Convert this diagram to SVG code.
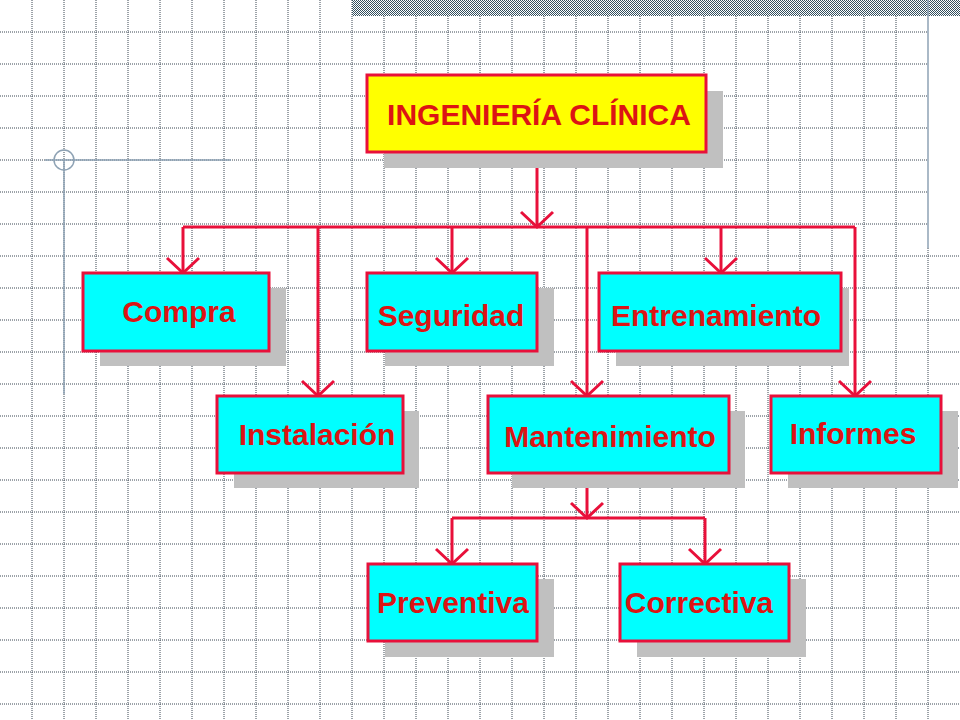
<svg xmlns="http://www.w3.org/2000/svg" width="960" height="720" viewBox="0 0 960 720">
<defs>
<pattern id="chk" width="2" height="2" patternUnits="userSpaceOnUse">
<rect width="2" height="2" fill="#ffffff"/>
<rect width="1" height="1" fill="#34505f"/>
<rect x="1" y="1" width="1" height="1" fill="#34505f"/>
</pattern>
<marker id="arr" markerUnits="userSpaceOnUse" markerWidth="40" markerHeight="40" viewBox="-20 -20 40 40" refX="0" refY="0" orient="auto">
<path d="M-15,-16 L0,0 L-15,16" fill="none" stroke="#e8103a" stroke-width="3"/>
</marker>
</defs>
<style>
.grid line{stroke:#3a4652;stroke-width:1;stroke-dasharray:1 1}
.deco{stroke:#8ea2b4;stroke-width:1.5;fill:none}
.shadow{fill:#c0c0c0}
.box{stroke:#e8103a;stroke-width:3}
.cy{fill:#00ffff}
.ye{fill:#ffff00}
.lbl{font-family:"Liberation Sans",Arial,sans-serif;font-weight:bold;font-size:30px;fill:#dc1414;text-anchor:middle}
.conn{stroke:#e8103a;stroke-width:3;fill:none}
</style>
<rect width="960" height="720" fill="#ffffff"/>
<g class="grid">
<line x1="32" y1="0" x2="32" y2="720"/><line x1="64" y1="0" x2="64" y2="720"/><line x1="96" y1="0" x2="96" y2="720"/><line x1="128" y1="0" x2="128" y2="720"/><line x1="160" y1="0" x2="160" y2="720"/><line x1="192" y1="0" x2="192" y2="720"/><line x1="224" y1="0" x2="224" y2="720"/><line x1="256" y1="0" x2="256" y2="720"/><line x1="288" y1="0" x2="288" y2="720"/><line x1="320" y1="0" x2="320" y2="720"/>
<line x1="352" y1="0" x2="352" y2="720"/><line x1="384" y1="16" x2="384" y2="720"/><line x1="416" y1="16" x2="416" y2="720"/><line x1="448" y1="16" x2="448" y2="720"/><line x1="480" y1="16" x2="480" y2="720"/><line x1="512" y1="16" x2="512" y2="720"/><line x1="544" y1="16" x2="544" y2="720"/><line x1="576" y1="16" x2="576" y2="720"/><line x1="608" y1="16" x2="608" y2="720"/><line x1="640" y1="16" x2="640" y2="720"/>
<line x1="672" y1="16" x2="672" y2="720"/><line x1="704" y1="16" x2="704" y2="720"/><line x1="736" y1="16" x2="736" y2="720"/><line x1="768" y1="16" x2="768" y2="720"/><line x1="800" y1="16" x2="800" y2="720"/><line x1="832" y1="16" x2="832" y2="720"/><line x1="864" y1="16" x2="864" y2="720"/><line x1="896" y1="16" x2="896" y2="720"/><line x1="928" y1="248" x2="928" y2="720"/>
<line x1="0" y1="32" x2="928" y2="32"/><line x1="0" y1="64" x2="928" y2="64"/><line x1="0" y1="96" x2="928" y2="96"/><line x1="0" y1="128" x2="928" y2="128"/><line x1="0" y1="160" x2="928" y2="160"/><line x1="0" y1="192" x2="928" y2="192"/><line x1="0" y1="224" x2="928" y2="224"/>
<line x1="0" y1="256" x2="960" y2="256"/><line x1="0" y1="288" x2="960" y2="288"/><line x1="0" y1="320" x2="960" y2="320"/><line x1="0" y1="352" x2="960" y2="352"/><line x1="0" y1="384" x2="960" y2="384"/><line x1="0" y1="416" x2="960" y2="416"/><line x1="0" y1="448" x2="960" y2="448"/><line x1="0" y1="480" x2="960" y2="480"/><line x1="0" y1="512" x2="960" y2="512"/><line x1="0" y1="544" x2="960" y2="544"/><line x1="0" y1="576" x2="960" y2="576"/><line x1="0" y1="608" x2="960" y2="608"/><line x1="0" y1="640" x2="960" y2="640"/><line x1="0" y1="672" x2="960" y2="672"/><line x1="0" y1="704" x2="960" y2="704"/>
</g>
<rect x="352" y="0" width="608" height="16" fill="url(#chk)"/>
<g class="deco">
<line x1="928" y1="0" x2="928" y2="248"/>
<line x1="45" y1="160" x2="231" y2="160"/>
<line x1="64" y1="160" x2="64" y2="394"/>
<circle cx="64" cy="160" r="10"/>
</g>
<g id="connectors">
<line class="conn" x1="537" y1="152" x2="537" y2="227" marker-end="url(#arr)"/>
<line class="conn" x1="183" y1="227" x2="855" y2="227"/>
<line class="conn" x1="183" y1="227" x2="183" y2="273" marker-end="url(#arr)"/>
<line class="conn" x1="318" y1="227" x2="318" y2="396" marker-end="url(#arr)"/>
<line class="conn" x1="452" y1="227" x2="452" y2="273" marker-end="url(#arr)"/>
<line class="conn" x1="587" y1="227" x2="587" y2="396" marker-end="url(#arr)"/>
<line class="conn" x1="721" y1="227" x2="721" y2="273" marker-end="url(#arr)"/>
<line class="conn" x1="855" y1="227" x2="855" y2="396" marker-end="url(#arr)"/>
<line class="conn" x1="587" y1="473" x2="587" y2="518" marker-end="url(#arr)"/>
<line class="conn" x1="452" y1="518" x2="705" y2="518"/>
<line class="conn" x1="452" y1="518" x2="452" y2="564" marker-end="url(#arr)"/>
<line class="conn" x1="705" y1="518" x2="705" y2="564" marker-end="url(#arr)"/>
</g>
<g id="ingenieria">
<rect class="shadow" x="384" y="91" width="339" height="77"/>
<rect class="box ye" x="367" y="75" width="339" height="77"/>
<text class="lbl" x="539" y="125">INGENIERÍA CLÍNICA</text>
</g>
<g id="compra">
<rect class="shadow" x="100" y="288" width="186" height="78"/>
<rect class="box cy" x="83" y="273" width="186" height="78"/>
<text class="lbl" x="179" y="322">Compra</text>
</g>
<g id="seguridad">
<rect class="shadow" x="385" y="288" width="169" height="78"/>
<rect class="box cy" x="367" y="273" width="170" height="78"/>
<text class="lbl" x="451" y="326">Seguridad</text>
</g>
<g id="entrenamiento">
<rect class="shadow" x="616" y="288" width="233" height="78"/>
<rect class="box cy" x="599" y="273" width="242" height="78"/>
<text class="lbl" x="716" y="326">Entrenamiento</text>
</g>
<g id="instalacion">
<rect class="shadow" x="234" y="411" width="185" height="77"/>
<rect class="box cy" x="217" y="396" width="186" height="77"/>
<text class="lbl" x="317" y="445">Instalación</text>
</g>
<g id="mantenimiento">
<rect class="shadow" x="512" y="411" width="233" height="77"/>
<rect class="box cy" x="488" y="396" width="241" height="77"/>
<text class="lbl" x="610" y="447">Mantenimiento</text>
</g>
<g id="informes">
<rect class="shadow" x="788" y="411" width="170" height="77"/>
<rect class="box cy" x="771" y="396" width="170" height="77"/>
<text class="lbl" x="853" y="444">Informes</text>
</g>
<g id="preventiva">
<rect class="shadow" x="385" y="579" width="169" height="78"/>
<rect class="box cy" x="368" y="564" width="169" height="77"/>
<text class="lbl" x="453" y="613">Preventiva</text>
</g>
<g id="correctiva">
<rect class="shadow" x="637" y="579" width="169" height="78"/>
<rect class="box cy" x="620" y="564" width="169" height="77"/>
<text class="lbl" x="699" y="613">Correctiva</text>
</g>
</svg>
